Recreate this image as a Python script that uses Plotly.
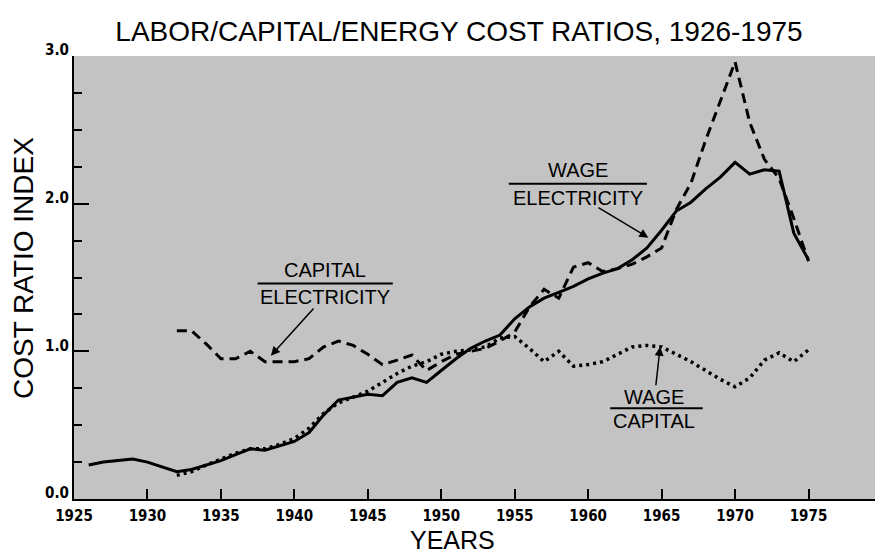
import plotly.graph_objects as go

# ---- data ----
years_we = list(range(1926, 1976))
wage_electricity = [0.23, 0.25, 0.26, 0.27, 0.25, 0.22, 0.185, 0.20, 0.23, 0.26,
                    0.30, 0.34, 0.33, 0.36, 0.39, 0.45, 0.57, 0.67, 0.69, 0.71,
                    0.70, 0.79, 0.82, 0.79, 0.87, 0.95, 1.02, 1.07, 1.11, 1.22,
                    1.30, 1.36, 1.40, 1.44, 1.49, 1.53, 1.56, 1.62, 1.70, 1.82,
                    1.95, 2.01, 2.10, 2.18, 2.28, 2.20, 2.23, 2.22, 1.80, 1.62]

years_ce = list(range(1932, 1976))
capital_electricity = [1.14, 1.14, 1.05, 0.95, 0.95, 1.00, 0.93, 0.93, 0.93, 0.95,
                       1.03, 1.07, 1.04, 0.98, 0.91, 0.94, 0.975, 0.87, 0.93, 0.98,
                       1.00, 1.02, 1.07, 1.13, 1.30, 1.42, 1.36, 1.57, 1.60, 1.54,
                       1.56, 1.59, 1.64, 1.70, 1.96, 2.14, 2.43, 2.70, 2.96, 2.55,
                       2.30, 2.17, 1.90, 1.61]

years_wc = list(range(1932, 1976))
wage_capital = [0.16, 0.185, 0.23, 0.27, 0.31, 0.34, 0.34, 0.37, 0.41, 0.48,
                0.58, 0.65, 0.69, 0.73, 0.79, 0.85, 0.90, 0.93, 0.98, 1.00,
                1.01, 1.03, 1.09, 1.10, 1.02, 0.93, 1.00, 0.90, 0.91, 0.93,
                0.98, 1.03, 1.04, 1.03, 0.98, 0.93, 0.87, 0.81, 0.76, 0.82,
                0.94, 0.99, 0.93, 1.01]

x_ticks = [1925, 1930, 1935, 1940, 1945, 1950, 1955, 1960, 1965, 1970, 1975]
y_ticks = [0.0, 1.0, 2.0, 3.0]

W, H = 875, 555
L, T, B = 74, 56, 56
PW, PH = W - L, H - T - B

TICK_FONT = dict(family="Liberation Sans Narrow, DejaVu Sans Condensed, sans-serif",
                 size=15, color="black", weight="bold")
TEXT_FONT = "Liberation Sans, Arial, sans-serif"

fig = go.Figure()

fig.add_trace(go.Scatter(x=years_we, y=wage_electricity, mode="lines",
                         name="Wage / Electricity",
                         line=dict(color="black", width=3)))
fig.add_trace(go.Scatter(x=years_ce, y=capital_electricity, mode="lines",
                         name="Capital / Electricity",
                         line=dict(color="black", width=3, dash="10px,6px")))
fig.add_trace(go.Scatter(x=years_wc, y=wage_capital, mode="lines",
                         name="Wage / Capital",
                         line=dict(color="black", width=3.5, dash="3px,4px")))

# ---- fraction labels ----
labels = [
    # (numerator, denominator, x, y_num, y_den, x0 line, x1 line, y line)
    ("CAPITAL", "ELECTRICITY", 1942.1, 1.55, 1.37, 1937.5, 1946.7, 1.46),
    ("WAGE", "ELECTRICITY", 1959.3, 2.23, 2.04, 1954.6, 1964.0, 2.135),
    ("WAGE", "CAPITAL", 1964.5, 0.69, 0.53, 1961.5, 1967.8, 0.615),
]
annotations = []
shapes = []
for num, den, xc, yn, yd, lx0, lx1, ly in labels:
    for txt, yy in ((num, yn), (den, yd)):
        annotations.append(dict(x=xc, y=yy, xref="x", yref="y", text=txt,
                                showarrow=False, xanchor="center", yanchor="middle",
                                font=dict(family=TEXT_FONT, size=20, color="black")))
    shapes.append(dict(type="line", xref="x", yref="y", x0=lx0, x1=lx1, y0=ly, y1=ly,
                       line=dict(color="black", width=2)))

# ---- arrows (tail -> head) ----
arrows = [
    (1941.4, 1.30, 1938.4, 0.97),
    (1960.6, 1.98, 1964.1, 1.77),
    (1964.6, 0.76, 1964.9, 1.03),
]
for tx, ty, hx, hy in arrows:
    annotations.append(dict(x=hx, y=hy, ax=tx, ay=ty, xref="x", yref="y",
                            axref="x", ayref="y", text="", showarrow=True,
                            arrowhead=2, arrowsize=1.2, arrowwidth=1.5,
                            arrowcolor="black"))

# axis titles placed as text (centre positions in page pixels)
yrs_x, yrs_y = 452, 540
annotations.append(dict(x=(yrs_x - L) / PW, y=-(yrs_y - (T + PH)) / PH,
                        xref="paper", yref="paper", text="YEARS",
                        xanchor="center", yanchor="middle", showarrow=False,
                        font=dict(family=TEXT_FONT, size=25, color="black")))
cri_x, cri_y = 23, 268
annotations.append(dict(x=(cri_x - L) / PW, y=(T + PH - cri_y) / PH,
                        xref="paper", yref="paper", text="COST RATIO INDEX",
                        textangle=-90, xanchor="center", yanchor="middle",
                        showarrow=False,
                        font=dict(family=TEXT_FONT, size=28, color="black")))

fig.update_layout(
    width=W, height=H,
    margin=dict(l=L, r=0, t=T, b=B, autoexpand=False),
    paper_bgcolor="white",
    plot_bgcolor="#c3c3c3",
    showlegend=False,
    title=dict(text="LABOR/CAPITAL/ENERGY COST RATIOS, 1926-1975",
               x=459 / W, xref="container", xanchor="center",
               y=1 - 31 / H, yref="container", yanchor="middle",
               font=dict(family=TEXT_FONT, size=28, color="black")),
    annotations=annotations,
    shapes=shapes,
)

fig.update_xaxes(range=[1925, 1925 + PW / 14.69], tickvals=x_ticks,
                 ticktext=[str(v) for v in x_ticks],
                 ticks="inside", ticklen=10, tickwidth=2, tickcolor="black",
                 ticklabelstandoff=2,
                 showline=True, linecolor="black", linewidth=2,
                 showgrid=False, zeroline=False, tickfont=TICK_FONT)
fig.update_yaxes(range=[0, 3], tickvals=y_ticks, ticktext=["0.0", "1.0", "2.0", "3.0"],
                 ticks="inside", ticklen=15, tickwidth=2, tickcolor="black",
                 ticklabelshift=-6,
                 minor=dict(dtick=0.25, tick0=0, ticks="inside", ticklen=8,
                            tickwidth=1.5, tickcolor="black", showgrid=False),
                 showline=True, linecolor="black", linewidth=2,
                 showgrid=False, zeroline=False, tickfont=TICK_FONT)

# remove the page's default body margin so the figure sits at the window origin
fig.write_html("out.html", config={"displayModeBar": False},
               post_script="document.body.style.margin='0';document.body.style.overflow='hidden';")
